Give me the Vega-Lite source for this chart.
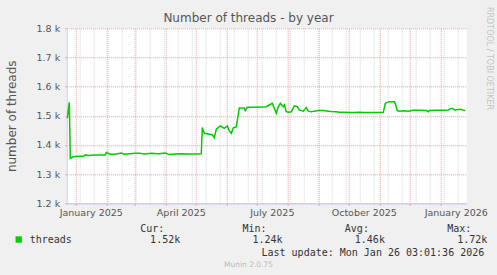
{
  "$schema": "https://vega.github.io/schema/vega-lite/v6.json",
  "width": 400,
  "height": 175,
  "autosize": "none",
  "padding": {"left": 66.7, "top": 28.3, "right": 30.3, "bottom": 71.7},
  "background": "#F0F0F0",
  "config": {"view": {"fill": "white", "stroke": null}},
  "title": {"text": "Number of threads - by year", "anchor": "middle", "frame": "group", "dx": -18.2, "offset": -28, "baseline": "alphabetic", "font": "DejaVu Sans", "fontSize": 12, "fontWeight": "normal", "color": "#555555"},
  "data": {"values": [
    {"date": "2024-12-24", "threads": 1491},
    {"date": "2024-12-26", "threads": 1546},
    {"date": "2024-12-27", "threads": 1354},
    {"date": "2024-12-30", "threads": 1360},
    {"date": "2025-01-04", "threads": 1361},
    {"date": "2025-01-09", "threads": 1361},
    {"date": "2025-01-11", "threads": 1366},
    {"date": "2025-01-14", "threads": 1364},
    {"date": "2025-01-21", "threads": 1366},
    {"date": "2025-01-31", "threads": 1366},
    {"date": "2025-02-01", "threads": 1374},
    {"date": "2025-02-05", "threads": 1368},
    {"date": "2025-02-10", "threads": 1368},
    {"date": "2025-02-16", "threads": 1372},
    {"date": "2025-02-19", "threads": 1368},
    {"date": "2025-03-02", "threads": 1372},
    {"date": "2025-03-06", "threads": 1372},
    {"date": "2025-03-11", "threads": 1369},
    {"date": "2025-03-18", "threads": 1372},
    {"date": "2025-03-25", "threads": 1370},
    {"date": "2025-04-01", "threads": 1372},
    {"date": "2025-04-05", "threads": 1367},
    {"date": "2025-04-15", "threads": 1370},
    {"date": "2025-04-25", "threads": 1369},
    {"date": "2025-05-05", "threads": 1369},
    {"date": "2025-05-07", "threads": 1370},
    {"date": "2025-05-08", "threads": 1460},
    {"date": "2025-05-10", "threads": 1440},
    {"date": "2025-05-18", "threads": 1435},
    {"date": "2025-05-20", "threads": 1425},
    {"date": "2025-05-22", "threads": 1454},
    {"date": "2025-05-26", "threads": 1465},
    {"date": "2025-05-30", "threads": 1457},
    {"date": "2025-06-02", "threads": 1465},
    {"date": "2025-06-04", "threads": 1448},
    {"date": "2025-06-06", "threads": 1440},
    {"date": "2025-06-08", "threads": 1459},
    {"date": "2025-06-11", "threads": 1462},
    {"date": "2025-06-14", "threads": 1527},
    {"date": "2025-06-19", "threads": 1527},
    {"date": "2025-06-20", "threads": 1518},
    {"date": "2025-06-22", "threads": 1529},
    {"date": "2025-06-29", "threads": 1529},
    {"date": "2025-07-06", "threads": 1530},
    {"date": "2025-07-11", "threads": 1531},
    {"date": "2025-07-14", "threads": 1537},
    {"date": "2025-07-17", "threads": 1543},
    {"date": "2025-07-18", "threads": 1534},
    {"date": "2025-07-21", "threads": 1509},
    {"date": "2025-07-23", "threads": 1531},
    {"date": "2025-07-25", "threads": 1543},
    {"date": "2025-07-28", "threads": 1531},
    {"date": "2025-07-29", "threads": 1537},
    {"date": "2025-07-31", "threads": 1514},
    {"date": "2025-08-02", "threads": 1512},
    {"date": "2025-08-05", "threads": 1514},
    {"date": "2025-08-08", "threads": 1534},
    {"date": "2025-08-11", "threads": 1531},
    {"date": "2025-08-13", "threads": 1520},
    {"date": "2025-08-17", "threads": 1516},
    {"date": "2025-08-20", "threads": 1528},
    {"date": "2025-08-22", "threads": 1516},
    {"date": "2025-08-25", "threads": 1514},
    {"date": "2025-08-28", "threads": 1516},
    {"date": "2025-09-01", "threads": 1518},
    {"date": "2025-09-06", "threads": 1518},
    {"date": "2025-09-11", "threads": 1516},
    {"date": "2025-09-14", "threads": 1515},
    {"date": "2025-09-19", "threads": 1514},
    {"date": "2025-09-22", "threads": 1512},
    {"date": "2025-09-27", "threads": 1512},
    {"date": "2025-10-02", "threads": 1511},
    {"date": "2025-10-07", "threads": 1511},
    {"date": "2025-10-12", "threads": 1512},
    {"date": "2025-10-17", "threads": 1511},
    {"date": "2025-10-27", "threads": 1511},
    {"date": "2025-11-05", "threads": 1512},
    {"date": "2025-11-07", "threads": 1543},
    {"date": "2025-11-09", "threads": 1546},
    {"date": "2025-11-11", "threads": 1548},
    {"date": "2025-11-16", "threads": 1548},
    {"date": "2025-11-17", "threads": 1541},
    {"date": "2025-11-19", "threads": 1518},
    {"date": "2025-11-21", "threads": 1516},
    {"date": "2025-11-25", "threads": 1517},
    {"date": "2025-11-30", "threads": 1516},
    {"date": "2025-12-05", "threads": 1519},
    {"date": "2025-12-11", "threads": 1519},
    {"date": "2025-12-18", "threads": 1518},
    {"date": "2025-12-20", "threads": 1514},
    {"date": "2025-12-21", "threads": 1518},
    {"date": "2025-12-28", "threads": 1519},
    {"date": "2026-01-04", "threads": 1519},
    {"date": "2026-01-09", "threads": 1520},
    {"date": "2026-01-10", "threads": 1523},
    {"date": "2026-01-13", "threads": 1526},
    {"date": "2026-01-14", "threads": 1523},
    {"date": "2026-01-16", "threads": 1519},
    {"date": "2026-01-18", "threads": 1522},
    {"date": "2026-01-22", "threads": 1522},
    {"date": "2026-01-24", "threads": 1519},
    {"date": "2026-01-26", "threads": 1518}
  ]},
  "layer": [
    {
      "mark": {"type": "line", "strokeWidth": 1.5, "clip": true},
      "encoding": {
        "x": {"field": "date", "type": "temporal",
          "scale": {"type": "utc", "domain": [{"year": 2024, "month": 12, "date": 23, "hours": 9, "minutes": 36, "utc": true}, {"year": 2026, "month": 1, "date": 27, "hours": 9, "minutes": 36, "utc": true}]},
          "axis": {
            "orient": "bottom",
            "values": [
              {"year": 2025, "month": 1, "date": 1, "utc": true},
              {"year": 2025, "month": 2, "date": 1, "utc": true},
              {"year": 2025, "month": 3, "date": 1, "utc": true},
              {"year": 2025, "month": 4, "date": 1, "utc": true},
              {"year": 2025, "month": 5, "date": 1, "utc": true},
              {"year": 2025, "month": 6, "date": 1, "utc": true},
              {"year": 2025, "month": 7, "date": 1, "utc": true},
              {"year": 2025, "month": 8, "date": 1, "utc": true},
              {"year": 2025, "month": 9, "date": 1, "utc": true},
              {"year": 2025, "month": 10, "date": 1, "utc": true},
              {"year": 2025, "month": 11, "date": 1, "utc": true},
              {"year": 2025, "month": 12, "date": 1, "utc": true},
              {"year": 2026, "month": 1, "date": 1, "utc": true}
            ],
            "labelExpr": "utcmonth(datum.value) % 3 == 0 ? utcFormat(datum.value, '%B %Y') : ''",
            "labelOffset": 15.5, "labelFlush": false, "labelOverlap": false,
            "labelFont": "DejaVu Sans", "labelFontSize": 9.5, "labelColor": "#555555", "labelPadding": 2,
            "tickSize": 2, "tickColor": "#E89898", "domainColor": "#C8C8F0",
            "grid": true, "gridColor": "#EC9C9C", "gridDash": [1, 1], "gridOpacity": 1,
            "title": "Last update: Mon Jan 26 03:01:36 2026",
            "titleFont": "DejaVu Sans Mono", "titleFontSize": 10, "titleFontWeight": "normal", "titleColor": "#333333",
            "titleAlign": "left", "titleAnchor": "start", "titleX": 194.3, "titleY": 44, "titleBaseline": "top"
          }
        },
        "y": {"field": "threads", "type": "quantitative",
          "scale": {"domain": [1200, 1800], "nice": false, "zero": false},
          "axis": {
            "values": [1200, 1300, 1400, 1500, 1600, 1700, 1800],
            "labelExpr": "format(datum.value / 1000, '.1f') + ' k'",
            "labelFont": "DejaVu Sans", "labelFontSize": 9.5, "labelColor": "#555555", "labelPadding": 5,
            "tickSize": 2, "tickColor": "#E89898", "domainColor": "#C8C8F0",
            "grid": true, "gridColor": "#EC9C9C", "gridDash": [1, 1], "gridOpacity": 1,
            "title": "number of threads", "titleFont": "DejaVu Sans", "titleFontSize": 12, "titleFontWeight": "normal", "titleColor": "#555555",
            "titleX": -55, "titleY": 87.5, "titleBaseline": "middle", "titleAlign": "center"
          }
        },
        "color": {"datum": "threads", "scale": {"range": ["#00CC00"]},
          "legend": {
            "orient": "none", "legendX": -53, "legendY": 195.2, "padding": 0,
            "title": "\u200b\u00a0\u00a0\u00a0\u00a0\u00a0\u00a0\u00a0\u00a0\u00a0\u00a0\u00a0\u00a0\u00a0\u00a0\u00a0\u00a0\u00a0\u00a0\u00a0\u00a0\u00a0Cur:\u00a0\u00a0\u00a0\u00a0\u00a0\u00a0\u00a0\u00a0\u00a0\u00a0\u00a0\u00a0\u00a0Min:\u00a0\u00a0\u00a0\u00a0\u00a0\u00a0\u00a0\u00a0\u00a0\u00a0\u00a0\u00a0\u00a0Avg:\u00a0\u00a0\u00a0\u00a0\u00a0\u00a0\u00a0\u00a0\u00a0\u00a0\u00a0\u00a0\u00a0Max:",
            "titleFont": "DejaVu Sans Mono", "titleFontSize": 10, "titleFontWeight": "normal", "titleColor": "#333333", "titleLimit": 600, "titlePadding": 1,
            "symbolType": "square", "symbolSize": 40, "symbolStrokeWidth": 0,
            "labelExpr": "datum.label + '\u00a0\u00a0\u00a0\u00a0\u00a0\u00a0\u00a0\u00a0\u00a0\u00a0\u00a0\u00a0\u00a01.52k\u00a0\u00a0\u00a0\u00a0\u00a0\u00a0\u00a0\u00a0\u00a0\u00a0\u00a0\u00a01.24k\u00a0\u00a0\u00a0\u00a0\u00a0\u00a0\u00a0\u00a0\u00a0\u00a0\u00a0\u00a01.46k\u00a0\u00a0\u00a0\u00a0\u00a0\u00a0\u00a0\u00a0\u00a0\u00a0\u00a0\u00a01.72k'",
            "labelFont": "DejaVu Sans Mono", "labelFontSize": 10, "labelColor": "#333333", "labelOffset": 6, "labelLimit": 600,
            "encode": {"symbols": {"update": {"fill": {"value": "#00CC00"}, "stroke": {"value": "transparent"}}}}
          }
        }
      }
    },
    {
      "mark": {"type": "line", "opacity": 0},
      "encoding": {
        "x": {"field": "date", "type": "temporal",
          "axis": {
            "orient": "bottom",
            "values": [
              {"year": 2025, "month": 1, "date": 5, "utc": true},
              {"year": 2025, "month": 1, "date": 19, "utc": true},
              {"year": 2025, "month": 2, "date": 2, "utc": true},
              {"year": 2025, "month": 2, "date": 16, "utc": true},
              {"year": 2025, "month": 3, "date": 2, "utc": true},
              {"year": 2025, "month": 3, "date": 16, "utc": true},
              {"year": 2025, "month": 3, "date": 30, "utc": true},
              {"year": 2025, "month": 4, "date": 13, "utc": true},
              {"year": 2025, "month": 4, "date": 27, "utc": true},
              {"year": 2025, "month": 5, "date": 11, "utc": true},
              {"year": 2025, "month": 5, "date": 25, "utc": true},
              {"year": 2025, "month": 6, "date": 8, "utc": true},
              {"year": 2025, "month": 6, "date": 22, "utc": true},
              {"year": 2025, "month": 7, "date": 6, "utc": true},
              {"year": 2025, "month": 7, "date": 20, "utc": true},
              {"year": 2025, "month": 8, "date": 3, "utc": true},
              {"year": 2025, "month": 8, "date": 17, "utc": true},
              {"year": 2025, "month": 8, "date": 31, "utc": true},
              {"year": 2025, "month": 9, "date": 14, "utc": true},
              {"year": 2025, "month": 9, "date": 28, "utc": true},
              {"year": 2025, "month": 10, "date": 12, "utc": true},
              {"year": 2025, "month": 10, "date": 26, "utc": true},
              {"year": 2025, "month": 11, "date": 9, "utc": true},
              {"year": 2025, "month": 11, "date": 23, "utc": true},
              {"year": 2025, "month": 12, "date": 7, "utc": true},
              {"year": 2025, "month": 12, "date": 21, "utc": true},
              {"year": 2026, "month": 1, "date": 4, "utc": true},
              {"year": 2026, "month": 1, "date": 18, "utc": true}
            ],
            "labels": false, "ticks": false, "domain": false,
            "grid": true, "gridColor": "#D4D4D4", "gridDash": [1, 1], "gridOpacity": 1,
            "title": "Munin 2.0.75", "titleFont": "DejaVu Sans", "titleFontSize": 7.5, "titleFontWeight": "normal", "titleColor": "#BBBBBB",
            "titleX": 181.3, "titleY": 60.7, "titleBaseline": "middle", "titleAlign": "center"
          }
        },
        "y": {"field": "threads", "type": "quantitative",
          "axis": {
            "orient": "right", "labels": false, "ticks": false, "domain": false, "grid": false,
            "title": "RRDTOOL / TOBI OETIKER", "titleFont": "DejaVu Sans", "titleFontSize": 8, "titleFontWeight": "normal", "titleColor": "#C4C4C4",
            "titleAngle": 90, "titleX": 21.3, "titleY": 29.7, "titleBaseline": "middle", "titleAlign": "center"
          }
        }
      }
    }
  ],
  "resolve": {"axis": {"x": "independent", "y": "independent"}}
}
